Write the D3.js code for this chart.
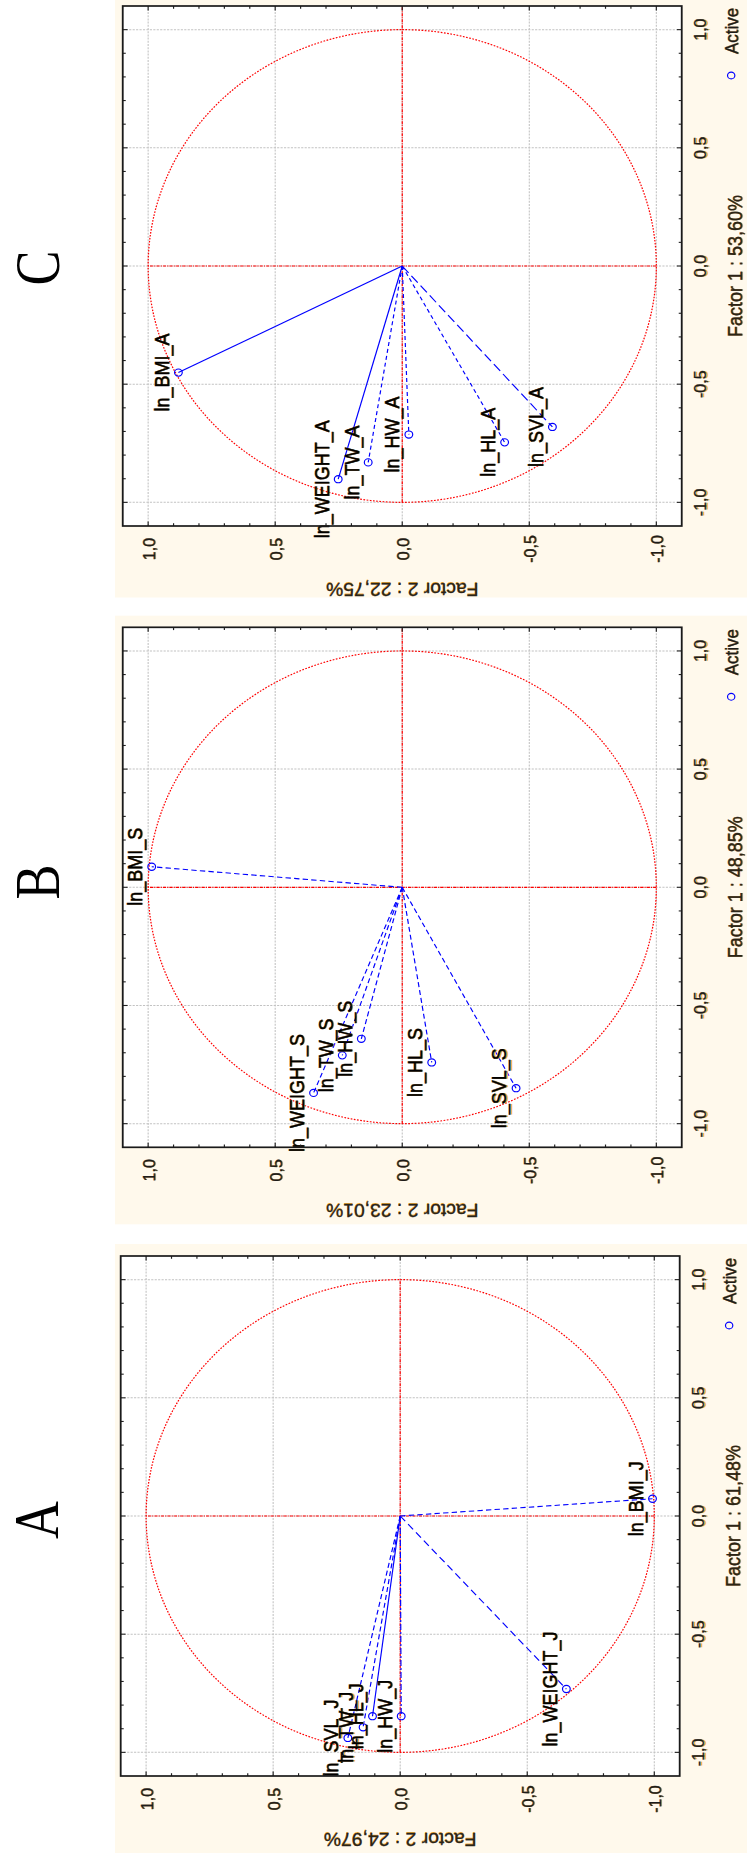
<!DOCTYPE html>
<html>
<head>
<meta charset="utf-8">
<script src="https://cdn.jsdelivr.net/npm/d3@7"></script>
<style>
  html, body { margin: 0; padding: 0; background: #ffffff; }
  svg { display: block; }
</style>
</head>
<body>
<svg id="fig" width="747" height="1854"></svg>
<script>
// ---------------- data ----------------
const tickVals = [-1.0, -0.5, 0.0, 0.5, 1.0];

const panelLetters = ["C", "B", "A"];
const factor1Titles = ["Factor 1 : 53,60%", "Factor 1 : 48,85%", "Factor 1 : 61,48%"];
const factor2Titles = ["Factor 2 : 22,75%", "Factor 2 : 23,01%", "Factor 2 : 24,97%"];

// adults
const varsC = ["ln_BMI_A", "ln_WEIGHT_A", "ln_TW_A", "ln_HW_A", "ln_HL_A", "ln_SVL_A"];
const f1C   = [-0.451, -0.902, -0.831, -0.713, -0.746, -0.681];
const f2C   = [ 0.881,  0.252,  0.134, -0.026, -0.403, -0.591];

// subadults
const varsB = ["ln_BMI_S", "ln_WEIGHT_S", "ln_TW_S", "ln_HW_S", "ln_HL_S", "ln_SVL_S"];
const f1B   = [ 0.087, -0.870, -0.711, -0.641, -0.741, -0.850];
const f2B   = [ 0.986,  0.349,  0.236,  0.161, -0.116, -0.448];

// juveniles
const varsA = ["ln_SVL_J", "ln_TW_J", "ln_HL_J", "ln_HW_J", "ln_WEIGHT_J", "ln_BMI_J"];
const f1A   = [-0.939, -0.894, -0.847, -0.847, -0.732,  0.073];
const f2A   = [ 0.206,  0.146,  0.109, -0.004, -0.654, -0.993];

const legendLabel = "Active";

// ---------------- styling ----------------
const lineDash = {
  ln_BMI_A: null, ln_WEIGHT_A: null, ln_TW_A: "4,3", ln_HW_A: "4,3", ln_HL_A: "4,3", ln_SVL_A: "9,4",
  ln_BMI_S: "5,3", ln_WEIGHT_S: "5,3", ln_TW_S: "5,3", ln_HW_S: "5,3", ln_HL_S: "5,3", ln_SVL_S: "5,3",
  ln_SVL_J: "5,3", ln_TW_J: "5,3", ln_HL_J: null, ln_HW_J: "6,2,2,2", ln_WEIGHT_J: "7,4", ln_BMI_J: "5,3"
};

const K = 1.075;                 // panels are stretched across the page width
const PANEL_H = 632 / K;         // panel height in panel units
const FRAME = 520;               // plot frame size in panel units
const FONT = "'Liberation Sans', Arial, Helvetica, sans-serif";
const CREAM = "#fff9ec";

const panelGeo = [
  { yb: 597.5,  creamH: 615,   fl: 71.5, ft: 7.2, crossTop: 1.1, letterX: 57, letterY: 268 },
  { yb: 1224.3, creamH: 608.6, fl: 77.0, ft: 7.2, crossTop: 1.1, letterX: 57, letterY: 882 },
  { yb: 1853,   creamH: 609,   fl: 77.0, ft: 5.3, crossTop: 1.0, letterX: 56, letterY: 1520 }
];

const panelData = [
  { names: varsC, f1: f1C, f2: f2C },
  { names: varsB, f1: f1B, f2: f2B },
  { names: varsA, f1: f1A, f2: f2A }
];

const fmt = d3.formatLocale({ decimal: ",", thousands: ".", grouping: [3], currency: ["", ""], minus: "-" }).format(".1f");

const svg = d3.select("#fig");

// text with the warm colour fringe seen on the labels
function fringeText(parent, str, opts) {
  const g = parent.append("g").attr("transform", opts.transform || null);
  const mk = (fill, dx, dy, op, sw) => g.append("text")
    .attr("x", (opts.x || 0) + dx).attr("y", (opts.y || 0) + dy)
    .attr("text-anchor", opts.anchor || "start")
    .attr("font-family", FONT).attr("font-size", opts.size)
    .attr("fill", fill).attr("fill-opacity", op)
    .attr("stroke", sw ? fill : null).attr("stroke-width", sw || null)
    .text(str);
  mk("#f2a21d", 0, 1.1, 0.85, 0);
  mk(opts.color || "#111", 0, 0, 1, opts.weight || 0.3);
  return g;
}

function drawPanel(geo, d, i) {
  const g = svg.append("g")
    .attr("transform", `translate(115,${geo.yb}) rotate(-90) scale(1,${K})`);

  // background
  g.append("rect").attr("x", 0).attr("y", 0)
    .attr("width", geo.creamH).attr("height", PANEL_H).attr("fill", CREAM);

  const x = d3.scaleLinear().domain([-1.1, 1.1]).range([geo.fl, geo.fl + FRAME]);
  const y = d3.scaleLinear().domain([-1.1, 1.1]).range([geo.ft + FRAME, geo.ft]);

  g.append("rect").attr("x", x(-1.1)).attr("y", y(1.1))
    .attr("width", FRAME).attr("height", FRAME).attr("fill", "#ffffff");

  // grid
  const grid = g.append("g").attr("stroke", "#c2c2c2").attr("stroke-width", 1)
    .attr("stroke-dasharray", "2,1.2").attr("fill", "none");
  tickVals.forEach(t => {
    grid.append("line").attr("x1", x(t)).attr("x2", x(t)).attr("y1", y(-1.1)).attr("y2", y(1.1));
    grid.append("line").attr("y1", y(t)).attr("y2", y(t)).attr("x1", x(-1.1)).attr("x2", x(1.1));
  });

  // unit circle and cross
  const red = g.append("g").attr("stroke", "#ff0000").attr("fill", "none").attr("stroke-width", 1.15);
  red.append("ellipse").attr("cx", x(0)).attr("cy", y(0))
    .attr("rx", x(1) - x(0)).attr("ry", y(0) - y(1))
    .attr("stroke-dasharray", "1.6,1.4");
  red.append("line").attr("x1", x(-1)).attr("x2", x(geo.crossTop)).attr("y1", y(0)).attr("y2", y(0))
    .attr("stroke-dasharray", "3,1,1,1");
  red.append("line").attr("x1", x(0)).attr("x2", x(0)).attr("y1", y(-1)).attr("y2", y(1))
    .attr("stroke-dasharray", "3,1,1,1");

  // loading vectors
  const vec = g.append("g").attr("stroke", "#0000ff").attr("stroke-width", 1.1).attr("fill", "none");
  d.names.forEach((n, j) => {
    vec.append("line").attr("x1", x(0)).attr("y1", y(0))
      .attr("x2", x(d.f1[j])).attr("y2", y(d.f2[j]))
      .attr("stroke-dasharray", lineDash[n]);
  });
  d.names.forEach((n, j) => {
    vec.append("circle").attr("cx", x(d.f1[j])).attr("cy", y(d.f2[j])).attr("r", 3.6)
      .attr("fill", "none");
  });

  // variable labels
  d.names.forEach((n, j) => {
    fringeText(g, n, { x: x(d.f1[j]), y: y(d.f2[j]) - 9, anchor: "middle", size: 18, color: "#000", weight: 0.4 });
  });

  // minor / major ticks on all four sides
  const tk = g.append("g").attr("stroke", "#222").attr("stroke-width", 1.1);
  d3.range(-10, 11).forEach(k => {
    const t = k / 10;
    const L = (k % 5 === 0) ? 4.5 : 2.8;
    tk.append("line").attr("x1", x(t)).attr("x2", x(t)).attr("y1", y(-1.1)).attr("y2", y(-1.1) - L);
    tk.append("line").attr("x1", x(t)).attr("x2", x(t)).attr("y1", y(1.1)).attr("y2", y(1.1) + L);
    tk.append("line").attr("y1", y(t)).attr("y2", y(t)).attr("x1", x(-1.1)).attr("x2", x(-1.1) + L);
    tk.append("line").attr("y1", y(t)).attr("y2", y(t)).attr("x1", x(1.1)).attr("x2", x(1.1) - L);
  });

  // frame
  g.append("rect").attr("x", x(-1.1)).attr("y", y(1.1))
    .attr("width", FRAME).attr("height", FRAME)
    .attr("fill", "none").attr("stroke", "#1a1a1a").attr("stroke-width", 1.7);

  // Factor 1 axis (bottom)
  tickVals.forEach(t => {
    fringeText(g, fmt(t), { x: x(t), y: y(-1.1) + 23, anchor: "middle", size: 16, color: "#1c1c1c" });
  });
  fringeText(g, factor1Titles[i], { x: x(0), y: y(-1.1) + 56, anchor: "middle", size: 18, color: "#2a2418" });

  // Factor 2 axis (left)
  tickVals.forEach(t => {
    fringeText(g, fmt(t), { x: x(-1.1) - 23, y: y(t) + 6, anchor: "middle", size: 16, color: "#1c1c1c" });
  });
  fringeText(g, factor2Titles[i], {
    transform: `translate(${x(-1.1) - 57},${y(0)}) rotate(-90)`,
    x: 0, y: 0, anchor: "middle", size: 18, color: "#2a2418"
  });

  // legend
  g.append("circle").attr("cx", x(-1.1) + 450.5).attr("cy", y(-1.1) + 46)
    .attr("r", 3.4).attr("fill", "none").attr("stroke", "#0000ff").attr("stroke-width", 1.1);
  fringeText(g, legendLabel, { x: x(-1.1) + 472, y: y(-1.1) + 52.5, anchor: "start", size: 17, color: "#1c1c1c" });

  // panel letter
  svg.append("text")
    .attr("transform", `translate(${geo.letterX + 2},${geo.letterY}) rotate(-90) scale(0.82,1)`)
    .attr("text-anchor", "middle")
    .attr("font-family", "'Liberation Serif', 'Times New Roman', serif")
    .attr("font-size", 64).attr("fill", "#000")
    .text(panelLetters[i]);
}

panelGeo.forEach((geo, i) => drawPanel(geo, panelData[i], i));
</script>
</body>
</html>
